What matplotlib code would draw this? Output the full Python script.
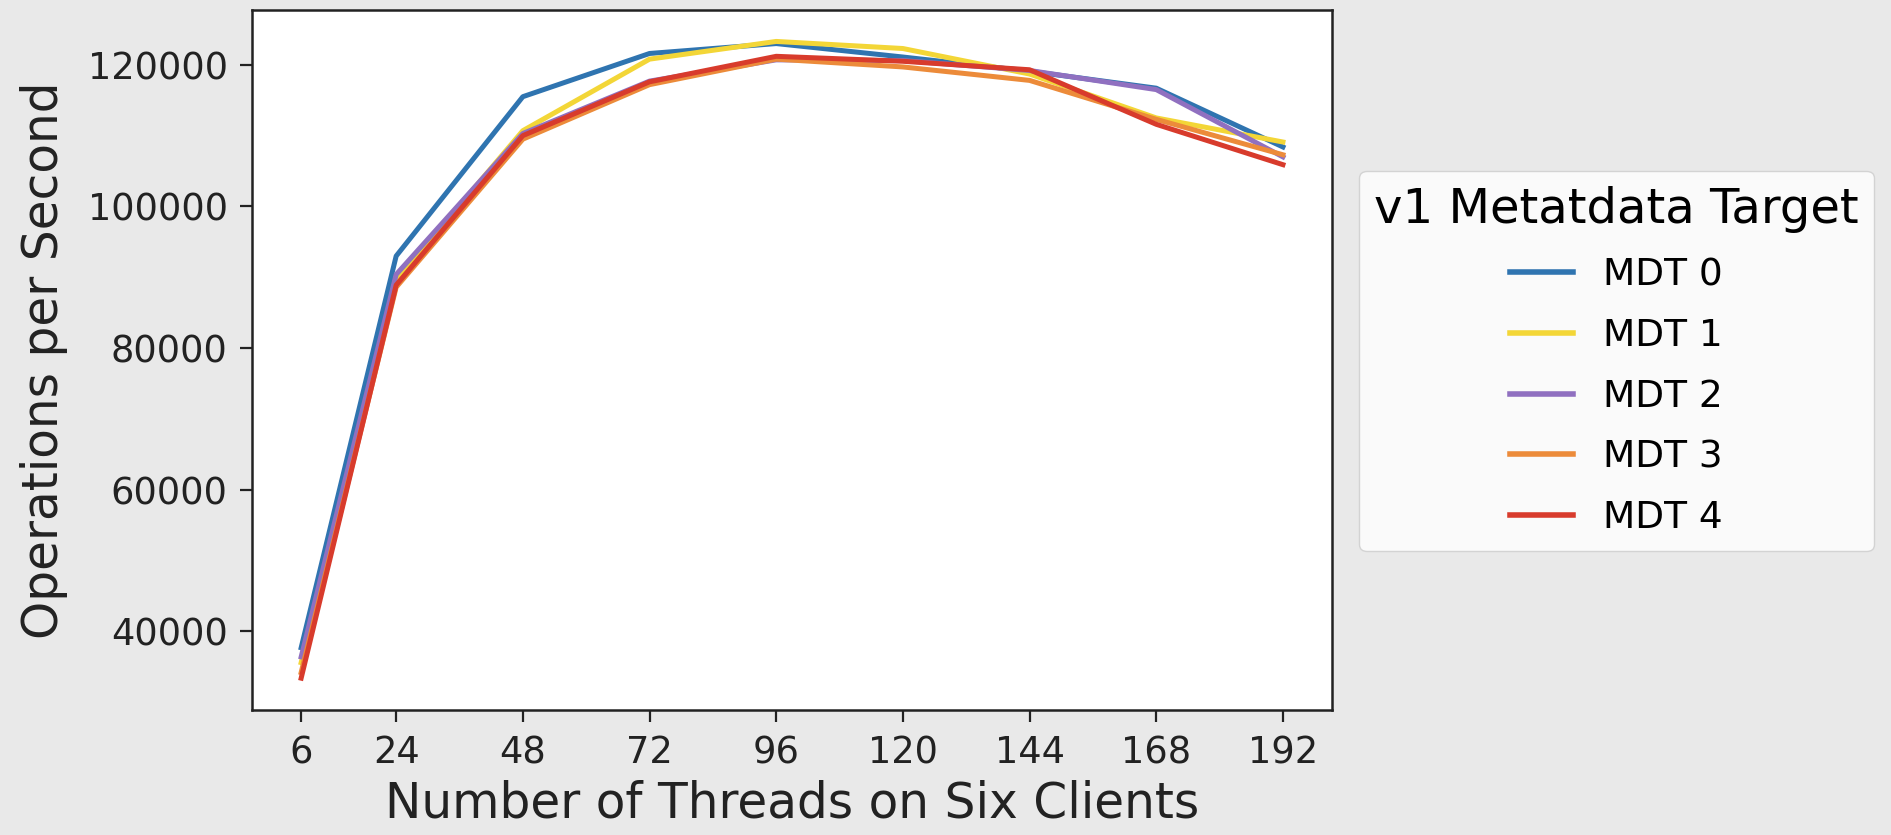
import matplotlib
matplotlib.use('Agg')
import matplotlib.pyplot as plt

threads = [6, 24, 48, 72, 96, 120, 144, 168, 192]

mdt0 = [37700, 93000, 115500, 121600, 123000, 121100, 119100, 116700, 108400]
mdt1 = [35600, 89600, 110700, 120800, 123300, 122300, 118700, 112500, 109100]
mdt2 = [36400, 90400, 110300, 117700, 120700, 120600, 119200, 116500, 107000]
mdt3 = [34200, 88600, 109500, 117200, 120800, 119700, 117800, 112300, 107300]
mdt4 = [33400, 88900, 110000, 117600, 121200, 120500, 119300, 111600, 105900]

series = [mdt0, mdt1, mdt2, mdt3, mdt4]
labels = ['MDT 0', 'MDT 1', 'MDT 2', 'MDT 3', 'MDT 4']
colors = ['#2f74b0', '#f3d637', '#9070c0', '#ec8b3a', '#d83b2c']

fig = plt.figure(figsize=(18.91, 8.35), dpi=100)
fig.patch.set_facecolor('#e9e9e9')
ax = fig.add_axes([0.1333, 0.1497, 0.5711, 0.8388])
ax.set_facecolor('white')

for vals, lab, col in zip(series, labels, colors):
  ax.plot(threads, vals, color=col, linewidth=3.6, label=lab)

ax.set_xticks(threads)
ax.tick_params(labelsize=26.5, length=8.5, width=1.6, pad=9, colors='#222222')
for sp in ax.spines.values():
  sp.set_linewidth(1.8)
  sp.set_color('#222222')

ax.set_xlabel('Number of Threads on Six Clients', fontsize=35, color='#222222', labelpad=6)
ax.set_ylabel('Operations per Second', fontsize=35, color='#222222', labelpad=14)

handles, labs = ax.get_legend_handles_labels()
leg = fig.legend(handles, labs, title='v1 Metatdata Target', loc='center left',
                 bbox_to_anchor=(0.7187, 0.5677), borderaxespad=0,
                 fontsize=27, title_fontsize=34.7, handlelength=1.7,
                 labelspacing=0.66)
for line in leg.get_lines():
  line.set_linewidth(4)

fig.savefig('out.png', dpi=100, facecolor=fig.get_facecolor())
